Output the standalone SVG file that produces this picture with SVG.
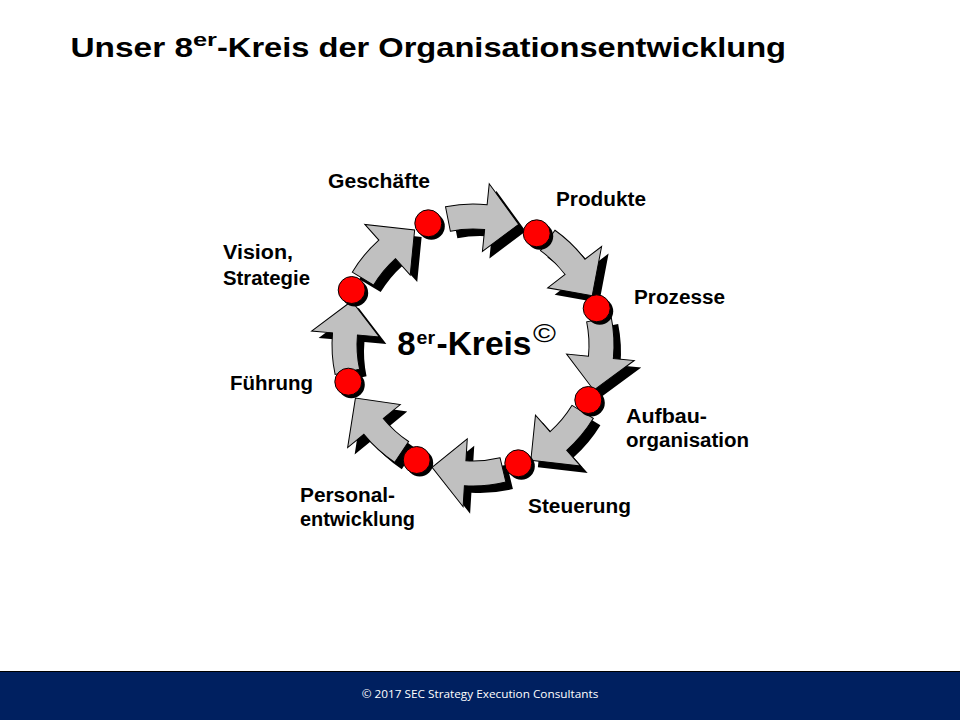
<svg xmlns="http://www.w3.org/2000/svg" xmlns:xlink="http://www.w3.org/1999/xlink" width="960" height="720" viewBox="0 0 960 720">
<style>
.bg{fill:#ffffff}
.arw{fill:#c0c0c0;stroke:#000;stroke-width:1;stroke-linejoin:miter}
.ash{fill:#000}
.dot{fill:#ff0000;stroke:#000;stroke-width:1}
.dsh{fill:#000}
.lbl{font-family:"Liberation Sans",Arial,sans-serif;font-weight:bold;font-size:20px;fill:#000}
.ttl{font-family:"Liberation Sans",Arial,sans-serif;font-weight:bold;fill:#000}
.ftr{font-family:"Open Sans","Noto Sans",sans-serif;font-size:10.5px;fill:#ffffff}
</style>
<defs>
<path id="arr" d="M141,0 A141,141 0 0 1 134.84,41.22 L154.92,47.36 L109.40,68.36 L89.89,27.48 L110.93,33.92 A116,116 0 0 0 116,0 Z"/>
</defs>
<rect class="bg" x="0" y="0" width="960" height="720"/>

<g id="title">
<text class="ttl" x="70.5" y="57" font-size="28" textLength="122.5" lengthAdjust="spacingAndGlyphs">Unser 8</text>
<text class="ttl" x="193" y="46" font-size="18" textLength="24" lengthAdjust="spacingAndGlyphs">er</text>
<text class="ttl" x="217" y="57" font-size="28" textLength="569" lengthAdjust="spacingAndGlyphs">-Kreis der Organisationsentwicklung</text>
</g>

<g id="connectors">
<use xlink:href="#arr" class="ash" transform="translate(480,352) rotate(-101.25)"/>
<use xlink:href="#arr" class="ash" transform="translate(480,352) rotate(-54.45)"/>
<use xlink:href="#arr" class="ash" transform="translate(480,352) rotate(-11.5)"/>
<use xlink:href="#arr" class="ash" transform="translate(480,352) rotate(31.35)"/>
<use xlink:href="#arr" class="ash" transform="translate(480,352) rotate(76.5)"/>
<use xlink:href="#arr" class="ash" transform="translate(480,352) rotate(123.7)"/>
<use xlink:href="#arr" class="ash" transform="translate(480,352) rotate(167.95)"/>
<use xlink:href="#arr" class="ash" transform="translate(480,352) rotate(211.1)"/>
<use xlink:href="#arr" class="arw" transform="translate(473,345) rotate(-101.25)"/>
<use xlink:href="#arr" class="arw" transform="translate(473,345) rotate(-54.45)"/>
<use xlink:href="#arr" class="arw" transform="translate(473,345) rotate(-11.5)"/>
<use xlink:href="#arr" class="arw" transform="translate(473,345) rotate(31.35)"/>
<use xlink:href="#arr" class="arw" transform="translate(473,345) rotate(76.5)"/>
<use xlink:href="#arr" class="arw" transform="translate(473,345) rotate(123.7)"/>
<use xlink:href="#arr" class="arw" transform="translate(473,345) rotate(167.95)"/>
<use xlink:href="#arr" class="arw" transform="translate(473,345) rotate(211.1)"/>
</g>

<g id="node-geschaefte">
<circle class="dsh" cx="431.3" cy="226.3" r="13.5"/>
<circle class="dot" cx="428.3" cy="223.3" r="13.5"/>
<text class="lbl" x="328" y="188" textLength="102" lengthAdjust="spacingAndGlyphs">Geschäfte</text>
</g>
<g id="node-produkte">
<circle class="dsh" cx="539.7" cy="236.3" r="13.5"/>
<circle class="dot" cx="536.7" cy="233.3" r="13.5"/>
<text class="lbl" x="556" y="206" textLength="90" lengthAdjust="spacingAndGlyphs">Produkte</text>
</g>
<g id="node-prozesse">
<circle class="dsh" cx="599.7" cy="311.3" r="13.5"/>
<circle class="dot" cx="596.7" cy="308.3" r="13.5"/>
<text class="lbl" x="634" y="304" textLength="91" lengthAdjust="spacingAndGlyphs">Prozesse</text>
</g>
<g id="node-aufbauorganisation">
<circle class="dsh" cx="591.3" cy="403" r="13.5"/>
<circle class="dot" cx="588.3" cy="400" r="13.5"/>
<text class="lbl" x="626" y="423" textLength="81" lengthAdjust="spacingAndGlyphs">Aufbau-</text>
<text class="lbl" x="626" y="447" textLength="123" lengthAdjust="spacingAndGlyphs">organisation</text>
</g>
<g id="node-steuerung">
<circle class="dsh" cx="521.3" cy="466.3" r="13.5"/>
<circle class="dot" cx="518.3" cy="463.3" r="13.5"/>
<text class="lbl" x="528" y="513" textLength="103" lengthAdjust="spacingAndGlyphs">Steuerung</text>
</g>
<g id="node-personalentwicklung">
<circle class="dsh" cx="419.7" cy="463" r="13.5"/>
<circle class="dot" cx="416.7" cy="460" r="13.5"/>
<text class="lbl" x="300" y="502" textLength="95" lengthAdjust="spacingAndGlyphs">Personal-</text>
<text class="lbl" x="300" y="526" textLength="115" lengthAdjust="spacingAndGlyphs">entwicklung</text>
</g>
<g id="node-fuehrung">
<circle class="dsh" cx="351.3" cy="384.7" r="13.5"/>
<circle class="dot" cx="348.3" cy="381.7" r="13.5"/>
<text class="lbl" x="230" y="390" textLength="83" lengthAdjust="spacingAndGlyphs">Führung</text>
</g>
<g id="node-vision">
<circle class="dsh" cx="354.7" cy="293" r="13.5"/>
<circle class="dot" cx="351.7" cy="290" r="13.5"/>
<text class="lbl" x="223" y="259" textLength="70" lengthAdjust="spacingAndGlyphs">Vision,</text>
<text class="lbl" x="223" y="285" textLength="87" lengthAdjust="spacingAndGlyphs">Strategie</text>
</g>

<g id="center-label">
<text class="ttl" x="397.3" y="354.5" font-size="33">8</text>
<text class="ttl" x="416.5" y="343.5" font-size="19" textLength="18.5" lengthAdjust="spacingAndGlyphs">er</text>
<text class="ttl" x="436.5" y="354.5" font-size="33" textLength="95" lengthAdjust="spacingAndGlyphs">-Kreis</text>
<text x="533" y="342" font-family="Liberation Sans, Arial, sans-serif" font-size="26" fill="#000" textLength="23" lengthAdjust="spacingAndGlyphs">©</text>
</g>

<g id="footer">
<rect x="0" y="671" width="960" height="49" fill="#002060"/>
<line x1="0" y1="671.5" x2="960" y2="671.5" stroke="#000" stroke-width="1"/>
<text class="ftr" x="361.7" y="698.3" textLength="236.6" lengthAdjust="spacingAndGlyphs">© 2017 SEC Strategy Execution Consultants</text>
</g>
</svg>
